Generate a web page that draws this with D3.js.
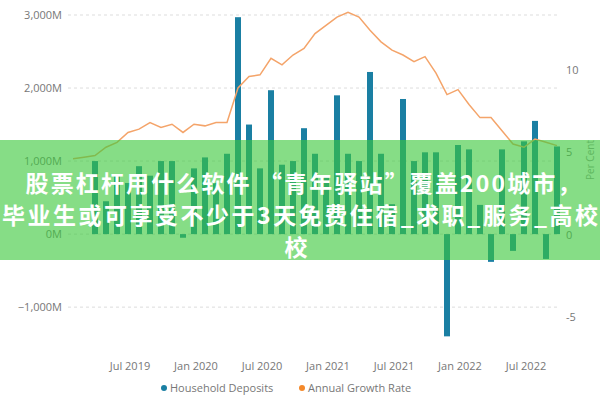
<!DOCTYPE html>
<html>
<head>
<meta charset="utf-8">
<script src="https://cdn.jsdelivr.net/npm/d3@7"></script>
<style>
  body { margin: 0; background: #fff; }
  text { font-family: "Open Sans", "Noto Sans", sans-serif; }
</style>
</head>
<body>
<script>
// months Feb 2019 .. Oct 2022
var months = d3.range(45).map(function(i) { return new Date(2019, 1 + i, 1); });

// Household Deposits, $M per month
var deposits = [0, 0, 1000, 450, 800, 700, 930, 800, 1000, 1000, -50,
  900, 1050, 700, 1100, 2970, 1500, 900, 1970, 950, 1000, 1450, 1100, 800,
  1900, 1100, 1000, 2220, 1100, 410, 1850, 1000, 1120, 1120, -1400,
  1220, 1160, 400, -380, 1160, -230, 1270, 1550, -340, 1200];

// Annual Growth Rate, per cent
var growth = [4.6, 4.7, 4.8, 5.3, 5.6, 6.2, 6.4, 6.8, 6.5, 6.7, 6.2,
  6.7, 6.6, 6.8, 6.8, 8.9, 9.6, 9.7, 10.7, 10.3, 10.9, 11.3, 12.2, 12.7,
  13.2, 13.5, 13.2, 12.4, 11.7, 11.2, 10.9, 10.5, 10.8, 9.8, 8.5,
  8.8, 7.9, 7.1, 7.1, 6.3, 5.5, 5.3, 5.8, 5.6, 5.4];

var leftTicks = [-1000, 0, 1000, 2000, 3000];
var rightTicks = [-5, 0, 5, 10];
var xTickLabels = ["Jul 2019", "Jan 2020", "Jul 2020", "Jan 2021", "Jul 2021", "Jan 2022", "Jul 2022"];

var headline = ["股票杠杆用什么软件 “青年驿站”覆盖200城市，",
  "毕业生或可享受不少于3天免费住宿_求职_服务_高校", "校"];

var W = 600, H = 400;
var svg = d3.select("body").append("svg").attr("width", W).attr("height", H);

var x = d3.scaleLinear().domain([0, 44]).range([73, 557]);
var yL = d3.scaleLinear().domain([-1450, 3000]).range([340, 15]);
var yR = d3.scaleLinear().domain([-6.4, 13.33]).range([340, 15]);

// grid
svg.selectAll("line.grid").data(leftTicks).enter().append("line")
  .attr("x1", 68).attr("x2", 560)
  .attr("y1", function(d) { return yL(d); }).attr("y2", function(d) { return yL(d); })
  .style("stroke", "#ddd").style("stroke-dasharray", "3,3");

svg.selectAll("text.yl").data(leftTicks).enter().append("text")
  .attr("x", 62).attr("y", function(d) { return yL(d) + 4; })
  .attr("text-anchor", "end").style("font-size", "11px").style("fill", "#777")
  .text(function(d) { return d3.format(",")(d) + "M"; });

svg.selectAll("text.yr").data(rightTicks).enter().append("text")
  .attr("x", 566).attr("y", function(d) { return yR(d) + 4; })
  .style("font-size", "11px").style("fill", "#777")
  .text(function(d) { return d; });

svg.append("text").attr("transform", "translate(594,160) rotate(-90)")
  .attr("text-anchor", "middle").style("font-size", "10px").style("fill", "#999")
  .text("Per Cent");

// bars
svg.selectAll("rect.bar").data(deposits).enter().append("rect")
  .attr("x", function(d, i) { return x(i) - 3; })
  .attr("width", 6)
  .attr("y", function(d) { return yL(Math.max(0, d)); })
  .attr("height", function(d) { return Math.abs(yL(d) - yL(0)); })
  .style("fill", "#1a7fa3");

// line
var line = d3.line().x(function(d, i) { return x(i); }).y(function(d) { return yR(d); });
svg.append("path").datum(growth).attr("d", line)
  .style("fill", "none").style("stroke", "#f4a46a").style("stroke-width", 1.5);

// x labels
var fmt = d3.timeFormat("%b %Y");
svg.selectAll("text.xl").data(xTickLabels).enter().append("text")
  .attr("x", function(d) {
    var i = months.findIndex(function(m) { return fmt(m) == d; });
    return x(i) + 2;
  })
  .attr("y", 370).attr("text-anchor", "middle")
  .style("font-size", "11px").style("fill", "#777").text(function(d) { return d; });

// legend
svg.append("circle").attr("cx", 164).attr("cy", 388).attr("r", 3).style("fill", "#1a7fa3");
svg.append("text").attr("x", 170).attr("y", 392).style("font-size", "11px").style("fill", "#777").text("Household Deposits");
svg.append("circle").attr("cx", 302).attr("cy", 388).attr("r", 3).style("fill", "#f4892a");
svg.append("text").attr("x", 308).attr("y", 392).style("font-size", "11px").style("fill", "#777").text("Annual Growth Rate");

// headline banner
svg.append("defs").append("clipPath").attr("id", "band")
  .append("rect").attr("x", 0).attr("y", 140).attr("width", W).attr("height", 120);
svg.append("rect").attr("x", 0).attr("y", 140).attr("width", W).attr("height", 120)
  .style("fill", "rgb(60,200,60)").style("opacity", 0.62);
svg.append("g").attr("clip-path", "url(#band)")
  .selectAll("text").data(headline).enter().append("text")
  .attr("x", function(d, i) { return i == 1 ? 300 : i == 2 ? 296 : 303; })
  .attr("y", function(d, i) { return 192 + i * 32; })
  .attr("text-anchor", "middle")
  .style("font-family", "'Noto Sans CJK SC', sans-serif")
  .style("font-weight", "bold").style("font-size", "23px").style("fill", "#fff")
  .attr("textLength", function(d, i) { return i == 0 ? 555 : i == 1 ? 596 : null; })
  .text(function(d) { return d; });
</script>
</body>
</html>
